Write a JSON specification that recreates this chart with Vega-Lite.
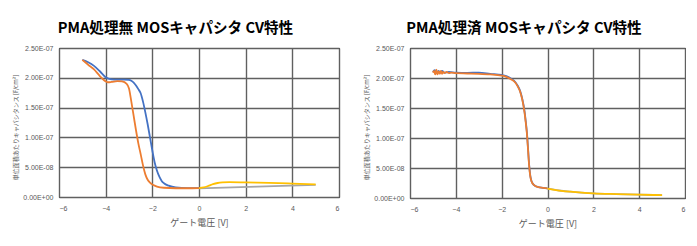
{
  "$schema": "https://vega.github.io/schema/vega-lite/v6.json",
  "autosize": {"type": "pad"},
  "padding": {"left": 11, "top": 20, "right": 0, "bottom": 0},
  "background": "white",
  "spacing": 71,
  "bounds": "flush",
  "config": {
    "font": "Noto Sans CJK JP",
    "view": {"stroke": "#000000", "strokeWidth": 1},
    "title": {"fontSize": 14.6, "fontWeight": "bold", "color": "#000000", "anchor": "middle", "frame": "bounds", "offset": 8},
    "axis": {
      "grid": true, "gridColor": "#606060", "gridWidth": 1.4, "domain": false, "ticks": false,
      "labelColor": "#595959", "labelFontSize": 7, "labelFont": "Liberation Sans", "titleColor": "#595959", "titleFontWeight": "normal"
    },
    "line": {"strokeWidth": 1.8, "interpolate": "monotone"}
  },
  "datasets": {
    "a": [
      {"s": "s1", "v": -5.0, "c": 2.30e-7}, {"s": "s1", "v": -4.75, "c": 2.26e-7}, {"s": "s1", "v": -4.5, "c": 2.20e-7},
      {"s": "s1", "v": -4.25, "c": 2.11e-7}, {"s": "s1", "v": -4.0, "c": 2.01e-7}, {"s": "s1", "v": -3.75, "c": 1.975e-7},
      {"s": "s1", "v": -3.5, "c": 1.97e-7}, {"s": "s1", "v": -3.2, "c": 1.97e-7}, {"s": "s1", "v": -3.0, "c": 1.965e-7},
      {"s": "s1", "v": -2.9, "c": 1.95e-7}, {"s": "s1", "v": -2.8, "c": 1.92e-7}, {"s": "s1", "v": -2.7, "c": 1.87e-7},
      {"s": "s1", "v": -2.6, "c": 1.81e-7}, {"s": "s1", "v": -2.5, "c": 1.74e-7}, {"s": "s1", "v": -2.4, "c": 1.60e-7},
      {"s": "s1", "v": -2.3, "c": 1.42e-7}, {"s": "s1", "v": -2.2, "c": 1.22e-7}, {"s": "s1", "v": -2.1, "c": 1.00e-7},
      {"s": "s1", "v": -2.0, "c": 0.78e-7}, {"s": "s1", "v": -1.9, "c": 0.58e-7}, {"s": "s1", "v": -1.8, "c": 0.44e-7},
      {"s": "s1", "v": -1.7, "c": 0.34e-7}, {"s": "s1", "v": -1.6, "c": 0.27e-7}, {"s": "s1", "v": -1.5, "c": 0.23e-7},
      {"s": "s1", "v": -1.3, "c": 0.19e-7}, {"s": "s1", "v": -1.0, "c": 0.16e-7}, {"s": "s1", "v": -0.5, "c": 0.148e-7},
      {"s": "s1", "v": 0.0, "c": 0.15e-7},
      {"s": "s2", "v": -5.0, "c": 2.30e-7}, {"s": "s2", "v": -4.75, "c": 2.22e-7}, {"s": "s2", "v": -4.5, "c": 2.14e-7},
      {"s": "s2", "v": -4.25, "c": 2.03e-7}, {"s": "s2", "v": -4.0, "c": 1.94e-7}, {"s": "s2", "v": -3.9, "c": 1.925e-7},
      {"s": "s2", "v": -3.75, "c": 1.93e-7}, {"s": "s2", "v": -3.5, "c": 1.945e-7}, {"s": "s2", "v": -3.3, "c": 1.94e-7},
      {"s": "s2", "v": -3.1, "c": 1.90e-7}, {"s": "s2", "v": -3.0, "c": 1.82e-7}, {"s": "s2", "v": -2.9, "c": 1.60e-7},
      {"s": "s2", "v": -2.8, "c": 1.36e-7}, {"s": "s2", "v": -2.7, "c": 1.12e-7}, {"s": "s2", "v": -2.6, "c": 0.90e-7},
      {"s": "s2", "v": -2.5, "c": 0.72e-7}, {"s": "s2", "v": -2.4, "c": 0.53e-7}, {"s": "s2", "v": -2.3, "c": 0.38e-7},
      {"s": "s2", "v": -2.2, "c": 0.29e-7}, {"s": "s2", "v": -2.1, "c": 0.24e-7}, {"s": "s2", "v": -2.0, "c": 0.21e-7},
      {"s": "s2", "v": -1.9, "c": 0.19e-7}, {"s": "s2", "v": -1.8, "c": 0.175e-7}, {"s": "s2", "v": -1.5, "c": 0.155e-7},
      {"s": "s2", "v": -1.0, "c": 0.147e-7}, {"s": "s2", "v": -0.5, "c": 0.147e-7}, {"s": "s2", "v": 0.0, "c": 0.15e-7},
      {"s": "s3", "v": 0.0, "c": 0.145e-7}, {"s": "s3", "v": 5.0, "c": 0.205e-7},
      {"s": "s4", "v": 0.0, "c": 0.15e-7}, {"s": "s4", "v": 0.2, "c": 0.16e-7}, {"s": "s4", "v": 0.4, "c": 0.185e-7},
      {"s": "s4", "v": 0.6, "c": 0.215e-7}, {"s": "s4", "v": 0.8, "c": 0.235e-7}, {"s": "s4", "v": 1.0, "c": 0.245e-7},
      {"s": "s4", "v": 1.3, "c": 0.25e-7}, {"s": "s4", "v": 2.0, "c": 0.245e-7}, {"s": "s4", "v": 3.0, "c": 0.237e-7},
      {"s": "s4", "v": 4.0, "c": 0.225e-7}, {"s": "s4", "v": 5.0, "c": 0.21e-7}
    ],
    "b": [
      {"s": "s1", "v": -5.0, "c": 2.10e-7}, {"s": "s1", "v": -4.92, "c": 2.13e-7}, {"s": "s1", "v": -4.84, "c": 2.08e-7},
      {"s": "s1", "v": -4.76, "c": 2.12e-7}, {"s": "s1", "v": -4.68, "c": 2.09e-7}, {"s": "s1", "v": -4.6, "c": 2.12e-7},
      {"s": "s1", "v": -4.5, "c": 2.09e-7}, {"s": "s1", "v": -4.3, "c": 2.10e-7}, {"s": "s1", "v": -4.0, "c": 2.09e-7},
      {"s": "s1", "v": -3.5, "c": 2.085e-7}, {"s": "s1", "v": -3.0, "c": 2.09e-7}, {"s": "s1", "v": -2.5, "c": 2.07e-7},
      {"s": "s1", "v": -2.0, "c": 2.05e-7}, {"s": "s1", "v": -1.8, "c": 2.03e-7}, {"s": "s1", "v": -1.6, "c": 1.99e-7},
      {"s": "s1", "v": -1.4, "c": 1.93e-7}, {"s": "s1", "v": -1.3, "c": 1.87e-7}, {"s": "s1", "v": -1.2, "c": 1.79e-7},
      {"s": "s1", "v": -1.1, "c": 1.65e-7}, {"s": "s1", "v": -1.0, "c": 1.44e-7}, {"s": "s1", "v": -0.95, "c": 1.28e-7},
      {"s": "s1", "v": -0.9, "c": 1.10e-7}, {"s": "s1", "v": -0.85, "c": 0.83e-7}, {"s": "s1", "v": -0.8, "c": 0.55e-7},
      {"s": "s1", "v": -0.75, "c": 0.37e-7}, {"s": "s1", "v": -0.7, "c": 0.285e-7}, {"s": "s1", "v": -0.6, "c": 0.22e-7},
      {"s": "s1", "v": -0.4, "c": 0.18e-7}, {"s": "s1", "v": -0.2, "c": 0.17e-7}, {"s": "s1", "v": 0.0, "c": 0.16e-7},
      {"s": "s2", "v": -5.0, "c": 2.09e-7}, {"s": "s2", "v": -4.95, "c": 2.12e-7}, {"s": "s2", "v": -4.9, "c": 2.06e-7},
      {"s": "s2", "v": -4.85, "c": 2.14e-7}, {"s": "s2", "v": -4.8, "c": 2.06e-7}, {"s": "s2", "v": -4.75, "c": 2.11e-7},
      {"s": "s2", "v": -4.7, "c": 2.07e-7}, {"s": "s2", "v": -4.65, "c": 2.12e-7}, {"s": "s2", "v": -4.6, "c": 2.07e-7},
      {"s": "s2", "v": -4.55, "c": 2.10e-7}, {"s": "s2", "v": -4.5, "c": 2.08e-7}, {"s": "s2", "v": -4.4, "c": 2.10e-7},
      {"s": "s2", "v": -4.3, "c": 2.08e-7}, {"s": "s2", "v": -4.2, "c": 2.09e-7}, {"s": "s2", "v": -4.0, "c": 2.08e-7},
      {"s": "s2", "v": -3.5, "c": 2.075e-7}, {"s": "s2", "v": -3.0, "c": 2.07e-7}, {"s": "s2", "v": -2.5, "c": 2.06e-7},
      {"s": "s2", "v": -2.0, "c": 2.04e-7}, {"s": "s2", "v": -1.8, "c": 2.02e-7}, {"s": "s2", "v": -1.6, "c": 1.98e-7},
      {"s": "s2", "v": -1.4, "c": 1.92e-7}, {"s": "s2", "v": -1.3, "c": 1.86e-7}, {"s": "s2", "v": -1.2, "c": 1.78e-7},
      {"s": "s2", "v": -1.1, "c": 1.64e-7}, {"s": "s2", "v": -1.0, "c": 1.42e-7}, {"s": "s2", "v": -0.95, "c": 1.26e-7},
      {"s": "s2", "v": -0.9, "c": 1.08e-7}, {"s": "s2", "v": -0.85, "c": 0.81e-7}, {"s": "s2", "v": -0.8, "c": 0.53e-7},
      {"s": "s2", "v": -0.75, "c": 0.36e-7}, {"s": "s2", "v": -0.7, "c": 0.28e-7}, {"s": "s2", "v": -0.6, "c": 0.22e-7},
      {"s": "s2", "v": -0.4, "c": 0.18e-7}, {"s": "s2", "v": -0.2, "c": 0.17e-7}, {"s": "s2", "v": 0.0, "c": 0.16e-7},
      {"s": "s3", "v": 0.0, "c": 0.155e-7}, {"s": "s3", "v": 0.5, "c": 0.125e-7}, {"s": "s3", "v": 1.0, "c": 0.105e-7},
      {"s": "s3", "v": 2.0, "c": 0.078e-7}, {"s": "s3", "v": 3.0, "c": 0.065e-7}, {"s": "s3", "v": 4.0, "c": 0.055e-7},
      {"s": "s3", "v": 5.0, "c": 0.048e-7},
      {"s": "s4", "v": 0.0, "c": 0.155e-7}, {"s": "s4", "v": 0.3, "c": 0.135e-7}, {"s": "s4", "v": 0.6, "c": 0.12e-7},
      {"s": "s4", "v": 1.0, "c": 0.105e-7}, {"s": "s4", "v": 1.5, "c": 0.09e-7}, {"s": "s4", "v": 2.0, "c": 0.078e-7},
      {"s": "s4", "v": 3.0, "c": 0.065e-7}, {"s": "s4", "v": 4.0, "c": 0.055e-7}, {"s": "s4", "v": 5.0, "c": 0.048e-7}
    ]
  },
  "hconcat": [
    {
      "title": "PMA処理無 MOSキャパシタ CV特性",
      "width": 280,
      "height": 149,
      "data": {"name": "a"},
      "mark": {"type": "line"},
      "encoding": {
        "x": {"field": "v", "type": "quantitative", "scale": {"domain": [-6, 6], "nice": false},
          "axis": {"values": [-6, -4, -2, 0, 2, 4, 6], "title": "ゲート電圧 [V]", "titleFontSize": 9, "labelPadding": 7, "titlePadding": 7}},
        "y": {"field": "c", "type": "quantitative", "scale": {"domain": [0, 2.5e-7], "nice": false},
          "axis": {"values": [0, 5e-8, 1e-7, 1.5e-7, 2e-7, 2.5e-7], "labelPadding": 6,
            "labelExpr": "datum.value == 0 ? '0.00E+00' : datum.value < 9.9e-8 ? format(datum.value * 1e8, '.2f') + 'E-08' : format(datum.value * 1e7, '.2f') + 'E-07'",
            "title": "単位面積あたりキャパシタンス [F/cm²]", "titleFontSize": 6, "titleX": -44, "titleY": 79, "titleBaseline": "middle"}},
        "color": {"field": "s", "type": "nominal", "legend": null,
          "scale": {"domain": ["s1", "s2", "s3", "s4"], "range": ["#4472C4", "#ED7D31", "#A5A5A5", "#FFC000"]}}
      }
    },
    {
      "title": "PMA処理済 MOSキャパシタ CV特性",
      "width": 275,
      "height": 150,
      "data": {"name": "b"},
      "mark": {"type": "line"},
      "encoding": {
        "x": {"field": "v", "type": "quantitative", "scale": {"domain": [-6, 6], "nice": false},
          "axis": {"values": [-6, -4, -2, 0, 2, 4, 6], "title": "ゲート電圧 [V]", "titleFontSize": 9, "labelPadding": 7, "titlePadding": 7}},
        "y": {"field": "c", "type": "quantitative", "scale": {"domain": [0, 2.5e-7], "nice": false},
          "axis": {"values": [0, 5e-8, 1e-7, 1.5e-7, 2e-7, 2.5e-7], "labelPadding": 6,
            "labelExpr": "datum.value == 0 ? '0.00E+00' : datum.value < 9.9e-8 ? format(datum.value * 1e8, '.2f') + 'E-08' : format(datum.value * 1e7, '.2f') + 'E-07'",
            "title": "単位面積あたりキャパシタンス [F/cm²]", "titleFontSize": 6, "titleX": -44, "titleY": 79, "titleBaseline": "middle"}},
        "color": {"field": "s", "type": "nominal", "legend": null,
          "scale": {"domain": ["s1", "s2", "s3", "s4"], "range": ["#4472C4", "#ED7D31", "#A5A5A5", "#FFC000"]}}
      }
    }
  ]
}
